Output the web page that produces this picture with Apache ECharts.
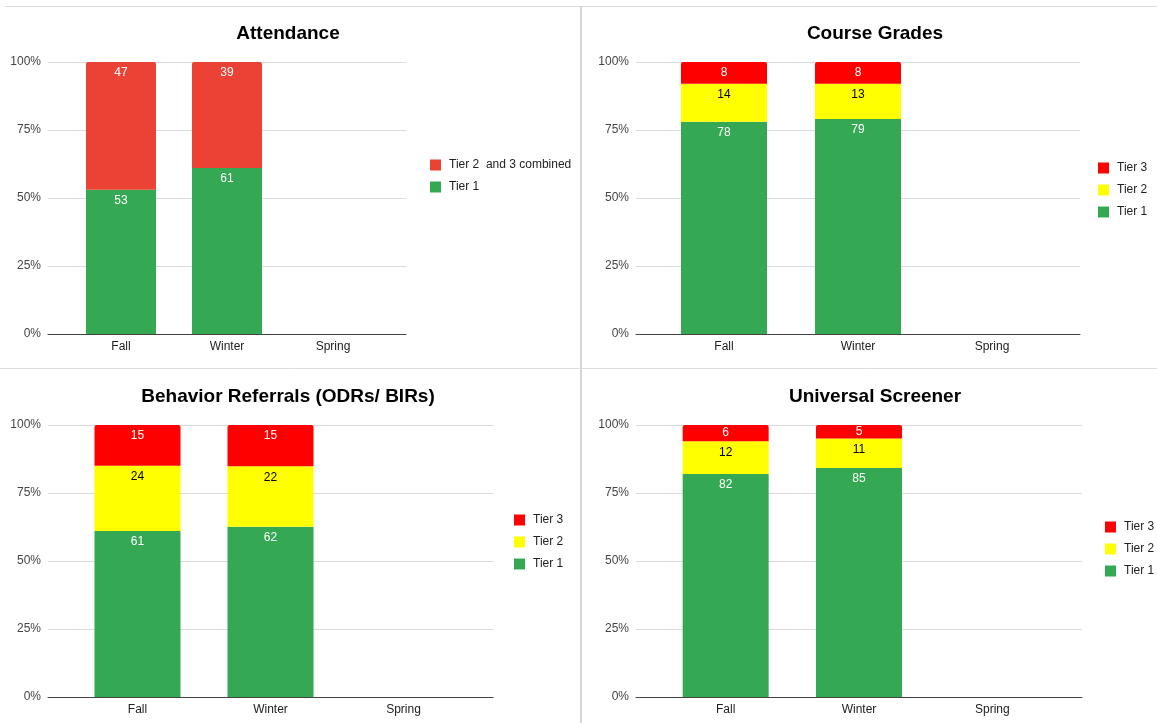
<!DOCTYPE html>
<html>
<head>
<meta charset="utf-8">
<title>Tier data</title>
<script src="https://cdn.jsdelivr.net/npm/echarts@6/dist/echarts.min.js"></script>
<style>
  html, body { margin: 0; padding: 0; background: #fff; }
  #chart { width: 1157px; height: 723px; }
</style>
</head>
<body>
<div id="chart"></div>
<script>
//  terms on the x axis
const categories = ['Fall', 'Winter', 'Spring'];
const yTicks = [0, 25, 50, 75, 100];

//  Attendance
const attendTier1 = [53, 61, null];
const attendTier23 = [47, 39, null];

//  Course Grades
const gradesTier1 = [78, 79, null];
const gradesTier2 = [14, 13, null];
const gradesTier3 = [8, 8, null];

//  Behavior Referrals
const behaviorTier1 = [61, 62, null];
const behaviorTier2 = [24, 22, null];
const behaviorTier3 = [15, 15, null];

//  Universal Screener
const screenerTier1 = [82, 85, null];
const screenerTier2 = [12, 11, null];
const screenerTier3 = [6, 5, null];

const GREEN = '#34A853';
const FONT = 'Liberation Sans, Arial, sans-serif';

//  panel layout: line grid (gridlines + y axis) and bar grid (categories)
const panels = [
    {
        title: 'Attendance', titleX: 288, top: 62,
        lineLeft: 48, lineWidth: 358, barLeft: 68, barWidth: 318, bw: 70,
        legendLeft: 430, legendTop: 159,
        series: [
            {name: 'Tier 1', data: attendTier1, color: GREEN, text: '#fff'},
            {name: 'Tier 2  and 3 combined', data: attendTier23, color: '#EA4335', text: '#fff'},
        ],
    },
    {
        title: 'Course Grades', titleX: 875, top: 62,
        lineLeft: 636, lineWidth: 444, barLeft: 657, barWidth: 402, bw: 86,
        legendLeft: 1098, legendTop: 162,
        series: [
            {name: 'Tier 1', data: gradesTier1, color: GREEN, text: '#fff'},
            {name: 'Tier 2', data: gradesTier2, color: '#FFFF00', text: '#000'},
            {name: 'Tier 3', data: gradesTier3, color: '#FF0000', text: '#fff'},
        ],
    },
    {
        title: 'Behavior Referrals (ODRs/ BIRs)', titleX: 288, top: 425,
        lineLeft: 48, lineWidth: 445, barLeft: 71, barWidth: 399, bw: 86,
        legendLeft: 514, legendTop: 514,
        series: [
            {name: 'Tier 1', data: behaviorTier1, color: GREEN, text: '#fff'},
            {name: 'Tier 2', data: behaviorTier2, color: '#FFFF00', text: '#000'},
            {name: 'Tier 3', data: behaviorTier3, color: '#FF0000', text: '#fff'},
        ],
    },
    {
        title: 'Universal Screener', titleX: 875, top: 425,
        lineLeft: 636, lineWidth: 446, barLeft: 659, barWidth: 400, bw: 86,
        legendLeft: 1105, legendTop: 521,
        series: [
            {name: 'Tier 1', data: screenerTier1, color: GREEN, text: '#fff'},
            {name: 'Tier 2', data: screenerTier2, color: '#FFFF00', text: '#000'},
            {name: 'Tier 3', data: screenerTier3, color: '#FF0000', text: '#fff'},
        ],
    },
];

const PLOT_H = 272;

//  100% stacked: share of each tier in its term
//  small segments get their label centred instead of at the top
function shareData(list, all) {
    return list.map(function (v, i) {
        if (v == null) return null;
        let total = 0;
        all.forEach(function (s) { total += s.data[i] || 0; });
        const share = v / total * 100;
        const item = {value: share, raw: v};
        if (share * PLOT_H / 100 < 22) {
            item.label = {position: 'inside'};
        }
        return item;
    });
}

const option = {
    backgroundColor: '#fff',
    animation: false,
    textStyle: {fontFamily: FONT},
    title: [], legend: [], grid: [], xAxis: [], yAxis: [], series: [],
    graphic: [
        //  frame lines between the panels
        {type: 'line', shape: {x1: 5, y1: 6.5, x2: 1157, y2: 6.5}, style: {stroke: '#dcdcdc', lineWidth: 1}},
        {type: 'line', shape: {x1: 581, y1: 6, x2: 581, y2: 723}, style: {stroke: '#d6d6d6', lineWidth: 2}},
        {type: 'line', shape: {x1: 0, y1: 368.5, x2: 1157, y2: 368.5}, style: {stroke: '#dcdcdc', lineWidth: 1}},
    ],
};

panels.forEach(function (p, k) {
    const gLine = k * 2, gBar = k * 2 + 1;
    option.title.push({
        text: p.title, left: p.titleX, top: p.top - 38, textAlign: 'center', padding: 0,
        textStyle: {fontSize: 19, fontWeight: 'bold', color: '#000', fontFamily: FONT},
    });
    option.legend.push({
        orient: 'vertical', left: p.legendLeft, top: p.legendTop, padding: 0,
        icon: 'rect', itemWidth: 11, itemHeight: 11, itemGap: 10,
        textStyle: {fontSize: 12, color: '#222', fontFamily: FONT, padding: [0, 0, 0, 3]},
        data: p.series.map(function (s) { return s.name; }).reverse(),
    });
    option.grid.push(
        {left: p.lineLeft, width: p.lineWidth, top: p.top, height: PLOT_H},
        {left: p.barLeft, width: p.barWidth, top: p.top, height: PLOT_H}
    );
    option.xAxis.push(
        {
            gridIndex: gLine, type: 'value', min: 0, max: 1,
            axisLine: {show: true, lineStyle: {color: '#444', width: 1}},
            axisTick: {show: false}, axisLabel: {show: false}, splitLine: {show: false},
        },
        {
            gridIndex: gBar, type: 'category', data: categories,
            axisLine: {show: false}, axisTick: {show: false},
            axisLabel: {fontSize: 12, color: '#222', margin: 7, fontFamily: FONT},
        }
    );
    option.yAxis.push(
        {
            gridIndex: gLine, type: 'value', min: yTicks[0], max: yTicks[yTicks.length - 1], interval: 25,
            axisLine: {show: false}, axisTick: {show: false},
            axisLabel: {formatter: '{value}%', fontSize: 12, color: '#444', margin: 7, fontFamily: FONT},
            splitLine: {lineStyle: {color: '#dadada', width: 1}},
        },
        {
            gridIndex: gBar, type: 'value', min: 0, max: 100, show: false,
        }
    );
    p.series.forEach(function (s, j) {
        const isTop = j === p.series.length - 1;
        option.series.push({
            type: 'bar', name: s.name, stack: 'panel' + k,
            xAxisIndex: gBar, yAxisIndex: gBar,
            barWidth: p.bw,
            data: shareData(s.data, p.series),
            itemStyle: {color: s.color, borderRadius: isTop ? [2, 2, 0, 0] : 0},
            label: {
                show: true, position: 'insideTop', distance: 5,
                color: s.text, fontSize: 12, fontFamily: FONT,
                formatter: function (params) { return params.data.raw; },
            },
        });
    });
});

const myChart = echarts.init(document.getElementById('chart'));
myChart.setOption(option);
</script>
</body>
</html>
